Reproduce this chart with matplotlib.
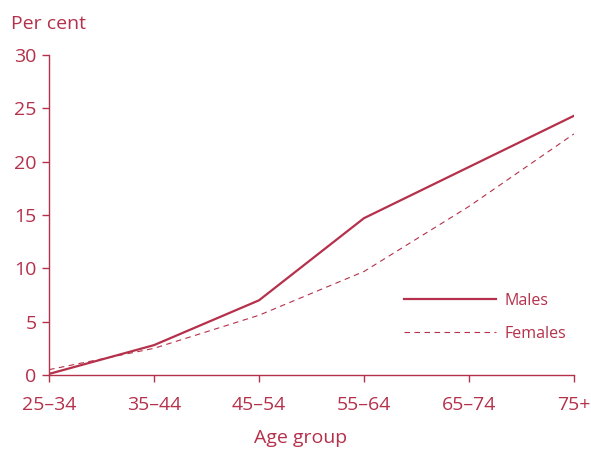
import matplotlib
matplotlib.use("Agg")
import matplotlib.pyplot as plt
import numpy as np

####################################################################################
## data

age_groups = ["25–34", "35–44", "45–54", "55–64", "65–74", "75+"]
males = [0.1, 2.8, 7.0, 14.7, 19.5, 24.3]
females = [0.5, 2.5, 5.6, 9.7, 15.8, 22.6]
y_ticks = [0, 5, 10, 15, 20, 25, 30]

####################################################################################
## plotting

col = "#b5304a"
plt.rcParams["font.family"] = ["Open Sans", "DejaVu Sans"]

fig = plt.figure(figsize=(5.91, 4.5), dpi=100)
ax = fig.add_axes([0.083, 0.1667, 0.888, 0.711])

x = np.arange(len(age_groups))
ax.plot(x, males, color=col, lw=1.6, label="Males")
ax.plot(x, females, color=col, lw=0.8, dashes=(5, 4), label="Females")

ax.set_xlim(0, len(age_groups) - 1)
ax.set_ylim(0, 30)
ax.set_xticks(x)
ax.set_xticklabels(age_groups)
ax.set_yticks(y_ticks)

for s in ["top", "right"]:
    ax.spines[s].set_visible(False)
for s in ["left", "bottom"]:
    ax.spines[s].set_color(col)
    ax.spines[s].set_linewidth(1.0)

ax.tick_params(axis="both", colors=col, labelsize=14, length=5, width=1.0)
ax.tick_params(axis="x", pad=10)
ax.tick_params(axis="y", pad=4)

fig.text(0.019, 0.947, "Per cent", color=col, fontsize=14, va="center", ha="left")
fig.text(0.508, 0.027, "Age group", color=col, fontsize=14, va="center", ha="center")

leg = ax.legend(loc="center left", bbox_to_anchor=(0.676, 0.18), frameon=False,
                borderpad=0, borderaxespad=0,
                handlelength=5.8, handletextpad=0.5, labelspacing=1.05,
                fontsize=11.5, labelcolor=col)

fig.savefig("out.png", dpi=100)
